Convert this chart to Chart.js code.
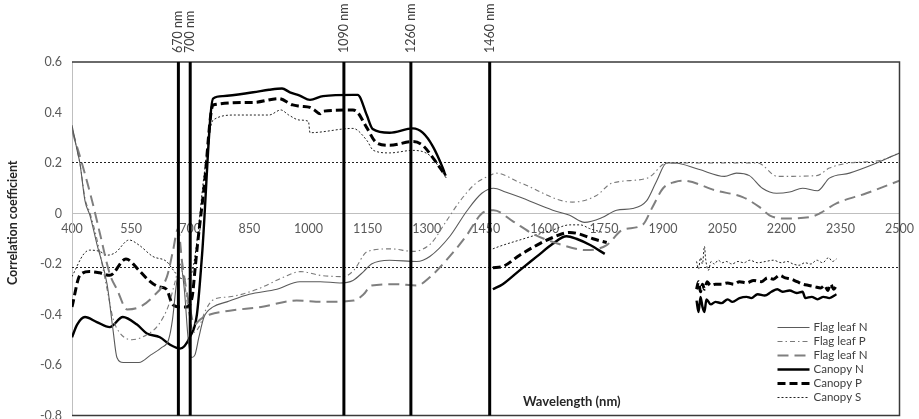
<!DOCTYPE html>
<html>
<head>
<meta charset="utf-8">
<script src="https://cdn.jsdelivr.net/npm/chart.js@4.4.1/dist/chart.umd.min.js"></script>
<style>
  html, body { margin: 0; padding: 0; background: #ffffff; overflow: hidden; }
  #wrap { width: 922px; height: 423px; }
</style>
</head>
<body>
<div id="wrap"><canvas id="c" width="922" height="423"></canvas></div>
<script>
// Correlation between reflectance and nutrient content along the spectrum (400–2500 nm)

const seriesLabels = ['Flag leaf N', 'Flag leaf P', 'Flag leaf N', 'Canopy N', 'Canopy P', 'Canopy S'];

// Flag leaf N (thin solid)
const flagN1_wl = [400, 413, 420, 433, 446, 463, 489, 504, 514, 530, 570, 600, 628, 645, 655, 665, 675, 685, 695, 704, 712, 722, 735, 758, 793, 850, 920, 978, 1030, 1080, 1113, 1140, 1160, 1206, 1275, 1308, 1359, 1402, 1440, 1470, 1500, 1536, 1620, 1663, 1701, 1747, 1782, 1823, 1858, 1884, 1909, 1930, 1990, 2056, 2086, 2119, 2152, 2188, 2221, 2254, 2292, 2322, 2373, 2442, 2500];
const flagN1_r  = [0.35, 0.25, 0.2, 0.05, -0.01, -0.12, -0.28, -0.46, -0.57, -0.59, -0.59, -0.56, -0.53, -0.5, -0.42, -0.28, -0.2, -0.3, -0.5, -0.57, -0.56, -0.49, -0.41, -0.37, -0.35, -0.32, -0.3, -0.27, -0.27, -0.275, -0.265, -0.23, -0.2, -0.185, -0.19, -0.17, -0.09, 0.01, 0.08, 0.1, 0.085, 0.065, 0.013, -0.007, -0.035, -0.015, 0.013, 0.02, 0.05, 0.13, 0.2, 0.2, 0.175, 0.147, 0.16, 0.15, 0.1, 0.08, 0.085, 0.1, 0.09, 0.14, 0.16, 0.2, 0.24];

// Flag leaf P (dash-dot)
const flagP_wl = [400, 413, 420, 433, 446, 463, 489, 505, 520, 552, 590, 620, 646, 660, 672, 682, 695, 710, 722, 740, 760, 800, 870, 940, 980, 1030, 1090, 1115, 1150, 1210, 1265, 1310, 1350, 1385, 1425, 1460, 1475, 1540, 1670, 1730, 1770, 1860, 1910, 2000, 2140, 2190, 2290, 2322, 2373, 2450, 2500];
const flagP_r  = [0.34, 0.25, 0.2, 0.06, 0.0, -0.1, -0.3, -0.42, -0.47, -0.5, -0.48, -0.44, -0.36, -0.28, -0.22, -0.24, -0.38, -0.47, -0.45, -0.38, -0.34, -0.33, -0.3, -0.25, -0.23, -0.245, -0.25, -0.225, -0.15, -0.14, -0.15, -0.12, -0.03, 0.05, 0.12, 0.15, 0.16, 0.12, 0.045, 0.07, 0.12, 0.14, 0.2, 0.2, 0.2, 0.147, 0.15, 0.18, 0.2, 0.21, 0.24];

// Flag leaf N (long dash)
const flagN2_wl = [400, 425, 451, 471, 496, 514, 540, 572, 605, 641, 656, 669, 680, 690, 700, 710, 725, 750, 800, 880, 970, 1037, 1115, 1140, 1160, 1220, 1275, 1310, 1350, 1400, 1440, 1470, 1518, 1569, 1645, 1706, 1757, 1797, 1848, 1873, 1900, 1930, 1950, 2036, 2102, 2145, 2170, 2203, 2271, 2297, 2340, 2416, 2500];
const flagN2_r  = [0.33, 0.2, 0.05, -0.08, -0.24, -0.3, -0.38, -0.37, -0.33, -0.25, -0.15, -0.06, -0.2, -0.3, -0.38, -0.44, -0.42, -0.4, -0.385, -0.37, -0.345, -0.35, -0.345, -0.32, -0.285, -0.28, -0.285, -0.25, -0.185, -0.09, 0.0, 0.013, -0.03, -0.08, -0.125, -0.145, -0.125, -0.065, -0.045, 0.025, 0.1, 0.125, 0.13, 0.09, 0.065, 0.025, -0.007, -0.02, -0.015, 0.0, 0.04, 0.08, 0.13];

// Canopy N (thick solid); null marks bands without data
const canopyN_wl = [400, 413, 433, 463, 496, 529, 565, 590, 623, 649, 674, 699, 717, 730, 758, 783, 860, 900, 933, 953, 978, 1004, 1037, 1113, 1125, 1148, 1163, 1206, 1265, 1290, 1316, 1341, 1348,
  1400,
  1468, 1493, 1536, 1580, 1620, 1655, 1680, 1715, 1752,
  1850,
  1985, 1990, 1995, 2000, 2005, 2010, 2021, 2033, 2048, 2064, 2076, 2094, 2112, 2124, 2140, 2158, 2175, 2190, 2203, 2221, 2239, 2254, 2261, 2277, 2292, 2307, 2322, 2340];
const canopyN_r  = [-0.49, -0.44, -0.41, -0.43, -0.45, -0.41, -0.44, -0.475, -0.49, -0.52, -0.535, -0.49, -0.4, -0.165, 0.455, 0.465, 0.48, 0.49, 0.495, 0.48, 0.467, 0.45, 0.465, 0.47, 0.47, 0.39, 0.335, 0.32, 0.337, 0.32, 0.265, 0.18, 0.15,
  null,
  -0.3, -0.28, -0.225, -0.17, -0.12, -0.09, -0.1, -0.125, -0.16,
  null,
  -0.345, -0.39, -0.33, -0.37, -0.39, -0.34, -0.36, -0.35, -0.355, -0.34, -0.35, -0.335, -0.33, -0.335, -0.32, -0.325, -0.31, -0.3, -0.31, -0.305, -0.315, -0.31, -0.335, -0.33, -0.34, -0.33, -0.335, -0.32];

// Canopy P (thick dashed)
const canopyP_wl = [400, 420, 445, 470, 496, 537, 570, 595, 620, 640, 655, 674, 690, 705, 712, 718, 735, 758, 860, 925, 960, 980, 1004, 1015, 1030, 1037, 1113, 1125, 1148, 1173, 1206, 1265, 1290, 1316, 1348,
  1400,
  1468, 1493, 1536, 1580, 1620, 1663, 1685, 1722, 1757,
  1850,
  1985, 1990, 1995, 2000, 2005, 2012, 2020, 2033, 2048, 2064, 2080, 2094, 2112, 2130, 2150, 2165, 2180, 2195, 2210, 2225, 2240, 2255, 2270, 2285, 2300, 2310, 2318, 2325, 2333, 2340];
const canopyP_r  = [-0.37, -0.245, -0.23, -0.235, -0.245, -0.18, -0.225, -0.265, -0.29, -0.3, -0.36, -0.37, -0.37, -0.33, -0.225, -0.13, 0.1, 0.43, 0.44, 0.455, 0.43, 0.425, 0.42, 0.41, 0.395, 0.405, 0.41, 0.4, 0.34, 0.28, 0.27, 0.285, 0.27, 0.22, 0.15,
  null,
  -0.215, -0.21, -0.165, -0.125, -0.095, -0.075, -0.08, -0.1, -0.115,
  null,
  -0.3, -0.27, -0.31, -0.28, -0.3, -0.27, -0.285, -0.28, -0.28, -0.275, -0.28, -0.27, -0.275, -0.265, -0.27, -0.255, -0.26, -0.245, -0.255, -0.26, -0.27, -0.28, -0.285, -0.29, -0.295, -0.285, -0.305, -0.28, -0.3, -0.285];

// Canopy S (fine dotted)
const canopyS_wl = [400, 430, 445, 470, 490, 510, 545, 570, 605, 640, 655, 674, 690, 705, 718, 735, 758, 815, 900, 930, 950, 978, 1000, 1004, 1113, 1148, 1165, 1206, 1265, 1308, 1333, 1350,
  1400,
  1468, 1485, 1536, 1620, 1663, 1690, 1714, 1747,
  1850,
  1985, 1990, 1995, 2000, 2005, 2008, 2015, 2022, 2030, 2040, 2050, 2060, 2075, 2090, 2105, 2120, 2140, 2160, 2180, 2200, 2215, 2230, 2245, 2260, 2275, 2290, 2305, 2320, 2330, 2340];
const canopyS_r  = [-0.25, -0.16, -0.145, -0.15, -0.165, -0.155, -0.105, -0.125, -0.17, -0.19, -0.22, -0.255, -0.26, -0.23, -0.1, 0.15, 0.37, 0.39, 0.39, 0.41, 0.39, 0.37, 0.365, 0.32, 0.337, 0.29, 0.25, 0.24, 0.25, 0.23, 0.18, 0.14,
  null,
  -0.14, -0.13, -0.105, -0.065, -0.045, -0.045, -0.06, -0.075,
  null,
  -0.19, -0.22, -0.175, -0.2, -0.13, -0.18, -0.225, -0.19, -0.2, -0.185, -0.195, -0.19, -0.2, -0.19, -0.195, -0.185, -0.195, -0.19, -0.185, -0.195, -0.19, -0.2, -0.205, -0.195, -0.2, -0.185, -0.195, -0.175, -0.19, -0.18];

// Marked wavelengths and significance thresholds
const markerWavelengths = [670, 700, 1090, 1260, 1460];
const thresholds = [0.205, -0.21];

// Axis ranges and tick steps
const xMin = 400, xMax = 2500, xStep = 150;
const yMin = -0.8, yMax = 0.6, yStep = 0.2;

function pairs(wl, r) {
  return wl.map((w, i) => ({ x: w, y: r[i] }));
}

const styles = [
  { color: '#5a5a5a', width: 1.1, dash: [] },
  { color: '#7a7a7a', width: 1.1, dash: [5, 3, 1.5, 3] },
  { color: '#7f7f7f', width: 2, dash: [11, 6] },
  { color: '#000000', width: 2.4, dash: [] },
  { color: '#000000', width: 3, dash: [8, 4] },
  { color: '#222222', width: 1, dash: [2, 2] }
];

const seriesData = [
  pairs(flagN1_wl, flagN1_r),
  pairs(flagP_wl, flagP_r),
  pairs(flagN2_wl, flagN2_r),
  pairs(canopyN_wl, canopyN_r),
  pairs(canopyP_wl, canopyP_r),
  pairs(canopyS_wl, canopyS_r)
];

const datasets = seriesLabels.map((label, i) => ({
  label,
  data: seriesData[i],
  borderColor: styles[i].color,
  borderWidth: styles[i].width,
  borderDash: styles[i].dash,
  pointRadius: 0,
  fill: false,
  cubicInterpolationMode: 'monotone',
  spanGaps: false
}));

const FONT = 'Lato, "Open Sans", sans-serif';

const overlay = {
  id: 'overlay',
  beforeDatasetsDraw(chart) {
    const { ctx, chartArea: a, scales: { y } } = chart;
    ctx.save();
    ctx.strokeStyle = '#222';
    ctx.lineWidth = 1;
    ctx.setLineDash([2, 2]);
    thresholds.forEach(t => {
      const py = Math.round(y.getPixelForValue(t)) + 0.5;
      ctx.beginPath();
      ctx.moveTo(a.left, py);
      ctx.lineTo(a.right, py);
      ctx.stroke();
    });
    ctx.restore();
  },
  afterDatasetsDraw(chart) {
    const { ctx, chartArea: a, scales: { x } } = chart;
    ctx.save();

    // plot frame (top, right, bottom)
    ctx.strokeStyle = '#3a3a3a';
    ctx.lineWidth = 1.5;
    ctx.beginPath();
    ctx.moveTo(a.left, a.top);
    ctx.lineTo(a.right, a.top);
    ctx.lineTo(a.right, a.bottom);
    ctx.lineTo(a.left, a.bottom);
    ctx.stroke();

    // marked wavelengths
    markerWavelengths.forEach(w => {
      const px = x.getPixelForValue(w);
      ctx.strokeStyle = '#000';
      ctx.lineWidth = 3;
      ctx.beginPath();
      ctx.moveTo(px, a.top);
      ctx.lineTo(px, a.bottom);
      ctx.stroke();
      ctx.save();
      ctx.translate(px, a.top - 9);
      ctx.rotate(-Math.PI / 2);
      ctx.fillStyle = '#404040';
      ctx.font = '12.5px ' + FONT;
      ctx.textAlign = 'left';
      ctx.textBaseline = 'middle';
      ctx.fillText(w + ' nm', 0, 0);
      ctx.restore();
    });

    // legend
    chart.data.datasets.forEach((ds, i) => {
      const ry = a.bottom - 88 + i * 14;
      ctx.strokeStyle = ds.borderColor;
      ctx.lineWidth = ds.borderWidth;
      ctx.setLineDash(ds.borderDash);
      ctx.beginPath();
      ctx.moveTo(a.right - 122, ry);
      ctx.lineTo(a.right - 90, ry);
      ctx.stroke();
      ctx.setLineDash([]);
      ctx.fillStyle = '#404040';
      ctx.font = '11.5px ' + FONT;
      ctx.textAlign = 'left';
      ctx.textBaseline = 'middle';
      ctx.fillText(ds.label, a.right - 86, ry);
    });

    // axis titles
    ctx.fillStyle = '#262626';
    ctx.font = 'bold 13px ' + FONT;
    ctx.textAlign = 'left';
    ctx.textBaseline = 'middle';
    ctx.fillText('Wavelength (nm)', a.left + 451, a.bottom - 14);

    ctx.save();
    ctx.translate(13, (a.top + a.bottom) / 2 - 16);
    ctx.rotate(-Math.PI / 2);
    ctx.font = 'bold 12.5px ' + FONT;
    ctx.textAlign = 'center';
    ctx.fillText('Correlation coefficient', 0, 0);
    ctx.restore();

    ctx.restore();
  }
};

new Chart(document.getElementById('c'), {
  type: 'line',
  data: { datasets },
  options: {
    responsive: false,
    animation: false,
    layout: { padding: { left: 0, right: 19, top: 62, bottom: 3 } },
    plugins: { legend: { display: false }, tooltip: { enabled: false } },
    scales: {
      x: {
        type: 'linear',
        position: { y: 0 },
        min: xMin,
        max: xMax,
        grid: { display: false, drawTicks: false },
        border: { display: true, color: '#bfbfbf', width: 1 },
        ticks: {
          stepSize: xStep,
          padding: 8,
          color: '#595959',
          font: { family: FONT, size: 12.5 },
          maxRotation: 0,
          autoSkip: false,
          callback: v => String(Math.round(v))
        }
      },
      y: {
        type: 'linear',
        min: yMin,
        max: yMax,
        afterFit: s => { s.width = 72; },
        grid: { display: true, drawOnChartArea: false, drawTicks: true, tickLength: 10, tickColor: 'rgba(0,0,0,0)' },
        border: { display: true, color: '#bfbfbf', width: 1 },
        ticks: {
          stepSize: yStep,
          padding: 0,
          color: '#595959',
          font: { family: FONT, size: 12.5 },
          callback: v => {
            const r = Math.round(v * 10) / 10;
            return r === 0 ? '0' : r.toFixed(1);
          }
        }
      }
    }
  },
  plugins: [overlay]
});
</script>
</body>
</html>
